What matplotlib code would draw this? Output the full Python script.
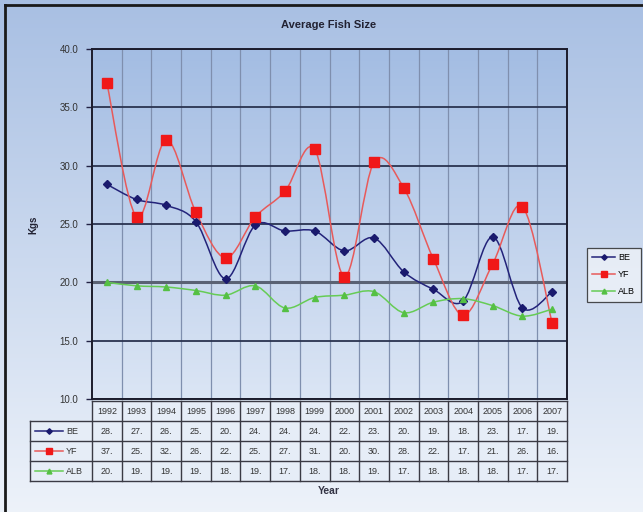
import numpy as np
import matplotlib
matplotlib.use("Agg")
import matplotlib.pyplot as plt
from matplotlib.path import Path
from matplotlib.patches import PathPatch, Rectangle
from matplotlib.lines import Line2D

plt.rcParams['font.family'] = ['Liberation Sans', 'DejaVu Sans']

# Số liệu kích thước cá trung bình (kg)
years = ['1992', '1993', '1994', '1995', '1996', '1997', '1998', '1999',
         '2000', '2001', '2002', '2003', '2004', '2005', '2006', '2007']
be = [28.4, 27.1, 26.6, 25.2, 20.3, 24.9, 24.4, 24.4, 22.7, 23.8, 20.9, 19.4, 18.4, 23.9, 17.8, 19.2]
yf = [37.1, 25.6, 32.2, 26.0, 22.1, 25.6, 27.8, 31.4, 20.5, 30.3, 28.1, 22.0, 17.2, 21.6, 26.5, 16.5]
alb = [20.0, 19.7, 19.6, 19.3, 18.9, 19.7, 17.8, 18.7, 18.9, 19.2, 17.4, 18.3, 18.6, 18.0, 17.1, 17.7]
series_names = ['BE', 'YF', 'ALB']
yticks = [10, 15, 20, 25, 30, 35, 40]

W, H = 643, 512
fig = plt.figure(figsize=(W / 100, H / 100), dpi=100)

# lớp nền toàn hình, toạ độ theo pixel
bg = fig.add_axes([0, 0, 1, 1])
bg.set_xlim(0, W)
bg.set_ylim(H, 0)
bg.axis('off')
grad = np.linspace(0, 1, 256).reshape(-1, 1)
top_c = np.array([0.66, 0.75, 0.89])
bot_c = np.array([0.93, 0.95, 0.98])
img = top_c + (bot_c - top_c) * grad[..., None]
bg.imshow(img, extent=[0, W, H, 0], aspect='auto', zorder=0)
bg.plot([5, W], [5, 5], color='#1a1a1a', lw=2, zorder=5)
bg.plot([5, 5], [5, H], color='#1a1a1a', lw=2, zorder=5)

# vùng vẽ chính
L, R, T, B = 92, 567, 49, 399
ax = fig.add_axes([L / W, 1 - B / H, (R - L) / W, (B - T) / H])
ax.set_xlim(-0.5, len(years) - 0.5)
ax.set_ylim(10, 40)
p_top = np.array([0.64, 0.74, 0.89])
p_bot = np.array([0.86, 0.90, 0.96])
pimg = p_top + (p_bot - p_top) * grad[..., None]
ax.imshow(pimg, extent=[-0.5, len(years) - 0.5, 10, 40], aspect='auto', zorder=0)

ax.set_yticks(yticks)
ax.set_yticklabels([f"{v:.1f}" for v in yticks], fontsize=7, color='#333333')
ax.set_xticks([])
ax.set_xticks(np.arange(len(years) - 1) + 0.5, minor=True)
ax.tick_params(axis='x', which='minor', length=0)
ax.tick_params(axis='y', length=4, width=1, color='#222244', pad=6)
ax.grid(axis='y', which='major', color='#2a3350', lw=1.3, zorder=1)
ax.grid(axis='x', which='minor', color='#7f8fae', lw=0.9, zorder=1)
# đường 20.0 đậm hơn
ax.axhline(20, color='#5a6274', lw=2.2, zorder=1)
for s in ax.spines.values():
    s.set_color('#1c1c2c')
    s.set_linewidth(1.4)
ax.set_axisbelow(True)


def smooth_path(xs, ys):
    # đường cong Bezier qua các điểm (kiểu "smoothed line" của Excel)
    n = len(xs)
    verts = [(xs[0], ys[0])]
    codes = [Path.MOVETO]
    for i in range(n - 1):
        p0 = (xs[i - 1], ys[i - 1]) if i > 0 else (xs[i], ys[i])
        p1 = (xs[i], ys[i])
        p2 = (xs[i + 1], ys[i + 1])
        p3 = (xs[i + 2], ys[i + 2]) if i + 2 < n else p2
        c1 = (p1[0] + (p2[0] - p0[0]) / 6, p1[1] + (p2[1] - p0[1]) / 6)
        c2 = (p2[0] - (p3[0] - p1[0]) / 6, p2[1] - (p3[1] - p1[1]) / 6)
        verts += [c1, c2, p2]
        codes += [Path.CURVE4] * 3
    return Path(verts, codes)


styles = [
    dict(color='#23237a', mk='D', mc='#1a1a6e', ms=4),
    dict(color='#e85a5a', mk='s', mc='#f01818', ms=6.5),
    dict(color='#66cc55', mk='^', mc='#55c044', ms=5),
]
x = np.arange(len(years))
handles = []
for name, vals, st in zip(series_names, [be, yf, alb], styles):
    ax.add_patch(PathPatch(smooth_path(x, vals), fill=False, edgecolor=st['color'], lw=1.1, zorder=3))
    ax.plot(x, vals, linestyle='none', marker=st['mk'], color=st['mc'], ms=st['ms'], zorder=4)
    handles.append(Line2D([], [], color=st['color'], lw=1.1, marker=st['mk'], mfc=st['mc'], mec=st['mc'], ms=st['ms'] * 0.7))

fig.text(329 / W, 1 - 25 / H, 'Average Fish Size', ha='center', va='center',
         fontsize=8, fontweight='bold', color='#222233')
fig.text(33 / W, 1 - 225 / H, 'Kgs', ha='center', va='center', rotation=90,
         fontsize=7, fontweight='bold', color='#222233')
fig.text(329 / W, 1 - 491 / H, 'Year', ha='center', va='center',
         fontsize=7.5, fontweight='bold', color='#333344')

# bảng số liệu bên dưới trục
cw = (R - L) / len(years)
rows = [401, 421, 441, 461, 481]
bg.add_patch(Rectangle((L, rows[0]), R - L, rows[-1] - rows[0], facecolor='#e6edf7', edgecolor='none', zorder=2))
bg.add_patch(Rectangle((30, rows[1]), L - 30, rows[-1] - rows[1], facecolor='#e6edf7', edgecolor='none', zorder=2))
line_kw = dict(color='#3a3a44', lw=1.0, zorder=3)
bg.plot([L, R], [rows[0], rows[0]], **line_kw)
for yy in rows[1:]:
    bg.plot([30, R], [yy, yy], **line_kw)
bg.plot([30, 30], [rows[1], rows[-1]], **line_kw)
for k in range(len(years) + 1):
    bg.plot([L + k * cw, L + k * cw], [rows[0], rows[-1]], **line_kw)
for k, yr in enumerate(years):
    bg.text(L + (k + 0.5) * cw, (rows[0] + rows[1]) / 2, yr, ha='center', va='center',
            fontsize=6.5, color='#333333', zorder=4)
for r, (name, vals, st) in enumerate(zip(series_names, [be, yf, alb], styles)):
    yc = (rows[r + 1] + rows[r + 2]) / 2
    bg.plot([35, 63], [yc, yc], color=st['color'], lw=1.1, zorder=4)
    bg.plot([49], [yc], marker=st['mk'], color=st['mc'], ms=st['ms'] * 0.7, zorder=5)
    bg.text(66, yc, name, ha='left', va='center', fontsize=6.5, color='#333333', zorder=4)
    for k, v in enumerate(vals):
        bg.text(L + (k + 0.5) * cw, yc, f"{v:.1f}"[:3], ha='center', va='center',
                fontsize=6.5, color='#333333', zorder=4)

leg = fig.legend(handles=handles, labels=series_names, loc='upper left',
                 bbox_to_anchor=(582 / W, 1 - 243 / H), fontsize=6.5,
                 frameon=True, fancybox=False, handlelength=2.6, borderpad=0.6,
                 labelspacing=0.9, handletextpad=0.3)
leg.get_frame().set_edgecolor('#222222')
leg.get_frame().set_facecolor('#eef2f8')
leg.get_frame().set_linewidth(0.9)

fig.savefig('out.png', dpi=100)
